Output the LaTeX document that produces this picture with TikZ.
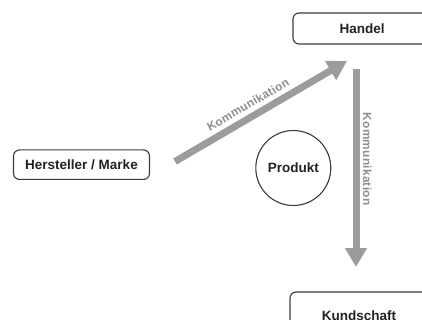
\documentclass[tikz,border=0pt]{standalone}
\usepackage{fontspec}
\setmainfont{Liberation Sans}
\usetikzlibrary{arrows.meta}
\definecolor{arrowgray}{HTML}{9C9C9C}
\definecolor{labelgray}{HTML}{8E8E8E}
\definecolor{boxline}{HTML}{3C3C3C}
\definecolor{txt}{HTML}{222222}
\begin{document}
\begin{tikzpicture}[x=1pt,y=-1pt,
  box/.style={draw=boxline, line width=1.1pt, rounded corners=6pt,
    font=\fontsize{13.5}{16}\selectfont\bfseries, text=txt, inner sep=0pt},
  roundbox/.style={draw=boxline, line width=1.1pt, circle,
    font=\fontsize{13.5}{16}\selectfont\bfseries, text=txt, inner sep=0pt, minimum size=75pt},
  flow/.style={draw=arrowgray, line width=7pt, -{Triangle[width=21pt,length=19pt]}},
  lbl/.style={font=\fontsize{11.8}{14}\selectfont\bfseries\addfontfeature{LetterSpace=2.5}, text=labelgray}
]
\useasboundingbox (0,0) rectangle (422,320);
\node[box, minimum width=138pt, minimum height=31pt] (handel) at (362,28.5) {Handel};
\node[box, minimum width=136pt, minimum height=29.5pt] (hersteller) at (81.5,164.7) {Hersteller / Marke};
\node[box, minimum width=138pt, minimum height=48pt] (kunde) at (359,316) {Kundschaft};
\node[roundbox] (produkt) at (293.3,168) {Produkt};
\coordinate (d1) at (175,161.5);
\coordinate (d2) at (347,61);
\coordinate (v1) at (356,69);
\coordinate (v2) at (356,267);
\draw[flow] (d1) -- (d2) node[lbl, pos=0.46, sloped, above, inner sep=4.5pt] (k1) {Kommunikation};
\draw[flow] (v1) -- (v2) node[lbl, pos=0.455, sloped, above, inner sep=3.5pt] (k2) {Kommunikation};
\end{tikzpicture}
\end{document}
